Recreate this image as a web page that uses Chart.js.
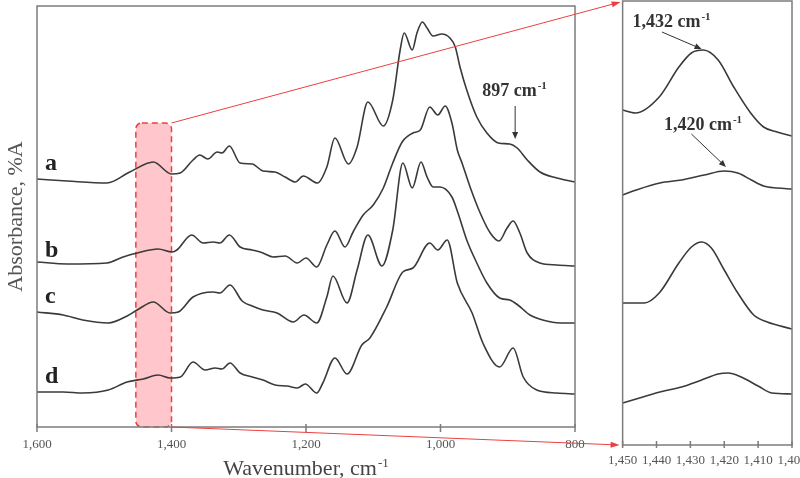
<!DOCTYPE html>
<html>
<head>
<meta charset="utf-8">
<script src="https://cdn.jsdelivr.net/npm/chart.js@4.4.1/dist/chart.umd.min.js"></script>
<style>
  html, body { margin: 0; padding: 0; background: #fff; overflow: hidden; }
  #wrap { position: relative; width: 800px; height: 478px; overflow: hidden; }
  #mainChart { position: absolute; left: 0; top: 0; }
  #zoomChart { position: absolute; left: 600px; top: 0; }
  #overlay { position: absolute; left: 0; top: 0; pointer-events: none; }
</style>
</head>
<body>
<div id="wrap">
  <canvas id="mainChart" width="600" height="478"></canvas>
  <canvas id="zoomChart" width="230" height="478"></canvas>
  <canvas id="overlay" width="800" height="478"></canvas>
</div>
<script>
// Full range spectra (wavenumber, cm-1 / absorbance with stacking offset)
const wnA = [1600,1555,1496,1462,1427,1400,1387,1368,1358,1346,1332,1325,1314,1298,1280,1264,1246,1231,1216,1204,1183,1169,1157,1137,1124,1108,1085,1071,1060,1054,1042,1035,1027,1020,1011,998,986,978,971,961,946,931,914,897,886,871,852,827,800];
const absA = [2.48,2.46,2.44,2.55,2.65,2.53,2.54,2.67,2.72,2.68,2.75,2.74,2.81,2.64,2.63,2.56,2.55,2.50,2.45,2.51,2.44,2.60,2.89,2.63,2.80,3.25,3.01,3.27,3.77,3.94,3.77,3.94,4.05,3.99,3.91,3.93,3.89,3.80,3.60,3.37,3.10,2.94,2.84,2.83,2.79,2.67,2.55,2.49,2.45];

const wnB = [1600,1555,1496,1472,1451,1420,1399,1392,1370,1353,1338,1328,1314,1298,1280,1264,1249,1231,1213,1200,1184,1169,1157,1142,1130,1115,1100,1085,1071,1057,1041,1030,1016,1004,993,983,975,968,956,941,926,913,901,892,882,871,852,827,800];
const absB = [1.65,1.63,1.64,1.70,1.74,1.78,1.75,1.77,1.92,1.84,1.85,1.84,1.92,1.80,1.77,1.74,1.70,1.71,1.64,1.69,1.60,1.82,1.96,1.80,1.95,2.12,2.22,2.39,2.64,2.85,2.94,2.97,3.20,3.12,3.21,3.04,2.77,2.64,2.40,2.14,1.94,1.86,1.99,2.06,1.94,1.74,1.64,1.62,1.61];

const wnC = [1600,1561,1532,1494,1466,1451,1427,1402,1390,1368,1338,1328,1313,1295,1280,1264,1243,1219,1203,1184,1169,1160,1139,1124,1108,1087,1071,1056,1042,1029,1020,1011,1001,983,974,961,946,931,912,897,885,867,848,822,800];
const absC = [1.15,1.12,1.07,1.04,1.11,1.17,1.25,1.14,1.15,1.30,1.35,1.34,1.42,1.26,1.21,1.17,1.14,1.05,1.12,1.04,1.30,1.51,1.24,1.57,1.92,1.61,1.97,2.64,2.39,2.65,2.50,2.40,2.40,2.30,2.14,1.87,1.64,1.44,1.29,1.27,1.22,1.12,1.07,1.04,1.04];

const wnD = [1600,1561,1532,1494,1466,1442,1420,1402,1387,1368,1350,1335,1325,1313,1298,1280,1264,1246,1228,1213,1201,1184,1175,1157,1139,1117,1105,1080,1056,1041,1016,1004,990,975,953,937,912,892,877,857,827,800];
const absD = [0.35,0.35,0.34,0.37,0.45,0.48,0.52,0.49,0.50,0.65,0.57,0.59,0.58,0.64,0.54,0.50,0.47,0.42,0.41,0.39,0.43,0.34,0.44,0.69,0.53,0.82,0.89,1.20,1.55,1.59,1.84,1.77,1.87,1.44,1.14,0.84,0.60,0.79,0.50,0.37,0.34,0.33];

// Zoomed 1,450 - 1,400 region
const zWnA = [1450,1446.2,1439.2,1433.4,1429.7,1426.2,1421.8,1417.2,1412.2,1408.4,1404.4,1400];
const zAbsA = [3.35,3.32,3.48,3.78,3.92,3.95,3.85,3.58,3.32,3.18,3.13,3.09];
const zWnB = [1450,1446,1439,1432.6,1425.9,1420,1416,1412,1408.4,1404.4,1400];
const zAbsB = [2.50,2.55,2.62,2.65,2.70,2.74,2.72,2.65,2.59,2.57,2.56];
const zWnC = [1450,1443.6,1439.2,1433.4,1429.7,1426.7,1423.8,1420,1416,1411.3,1407.3,1400];
const zAbsC = [1.42,1.42,1.52,1.82,1.98,2.03,1.97,1.75,1.52,1.30,1.23,1.16];
const zWnD = [1450,1444,1439,1432.6,1426.7,1421.8,1418.9,1415,1410,1406,1400];
const zAbsD = [0.42,0.48,0.53,0.58,0.65,0.71,0.72,0.68,0.59,0.52,0.51];

const mainTicks = [800, 1600, 200];   // min, max, step
const zoomTicks = [1400, 1450, 10];
const band = [1453, 1400];             // highlighted region on main plot

const serif = '"Liberation Serif", "Times New Roman", serif';
const frameColor = '#7c7c7c';
const inkColor = '#3a3a3a';
const redColor = '#ec4040';

function toPoints(wn, abs) {
    return wn.map((w, i) => ({ x: w, y: abs[i] }));
}

function trace(label, wn, abs) {
    return {
        label: label,
        data: toPoints(wn, abs),
        borderColor: inkColor,
        borderWidth: 1.6,
        pointRadius: 0,
        fill: false,
        cubicInterpolationMode: 'monotone'
    };
}

function drawFrame(chart, tickIn, tickOut) {
    const { ctx, chartArea: a, scales } = chart;
    ctx.save();
    ctx.strokeStyle = frameColor;
    ctx.lineWidth = 1.5;
    ctx.strokeRect(a.left, a.top, a.right - a.left, a.bottom - a.top);
    ctx.beginPath();
    scales.x.ticks.forEach(t => {
        const px = scales.x.getPixelForValue(t.value);
        ctx.moveTo(px, a.bottom - tickIn);
        ctx.lineTo(px, a.bottom + tickOut);
    });
    ctx.stroke();
    ctx.restore();
}

// text followed by a "-1" superscript
function supText(ctx, text, sup, y, size, weight, color) {
    ctx.save();
    ctx.font = weight + ' ' + size + 'px ' + serif;
    const w = ctx.measureText(text).width;
    ctx.font = weight + ' ' + Math.round(size * 0.6) + 'px ' + serif;
    const sw = ctx.measureText(sup).width;
    ctx.restore();
    return { w: w, sw: sw, draw: (lx) => {
        ctx.save();
        ctx.fillStyle = color;
        ctx.textBaseline = 'alphabetic';
        ctx.textAlign = 'left';
        ctx.font = weight + ' ' + size + 'px ' + serif;
        ctx.fillText(text, lx, y);
        ctx.font = weight + ' ' + Math.round(size * 0.6) + 'px ' + serif;
        ctx.fillText(sup, lx + w + 1, y - size * 0.38);
        ctx.restore();
    }};
}

function drawArrow(ctx, x1, y1, x2, y2, color, len, half) {
    const ang = Math.atan2(y2 - y1, x2 - x1);
    const c = Math.cos(ang), s = Math.sin(ang);
    ctx.save();
    ctx.strokeStyle = color;
    ctx.fillStyle = color;
    ctx.lineWidth = 1;
    ctx.beginPath();
    ctx.moveTo(x1, y1);
    ctx.lineTo(x2 - len * 0.6 * c, y2 - len * 0.6 * s);
    ctx.stroke();
    ctx.beginPath();
    ctx.moveTo(x2, y2);
    ctx.lineTo(x2 - len * c + half * s, y2 - len * s - half * c);
    ctx.lineTo(x2 - len * c - half * s, y2 - len * s + half * c);
    ctx.closePath();
    ctx.fill();
    ctx.restore();
}

const mainDecor = {
    id: 'mainDecor',
    beforeDatasetsDraw(chart) {
        const { ctx, chartArea: a, scales: { x, y } } = chart;
        const left = x.getPixelForValue(band[0]);
        const right = x.getPixelForValue(band[1]);
        const top = y.getPixelForValue(3.04);
        ctx.save();
        ctx.beginPath();
        ctx.roundRect(left, top, right - left, a.bottom - top, 6);
        ctx.fillStyle = 'rgba(255, 130, 140, 0.45)';
        ctx.fill();
        ctx.setLineDash([6, 4]);
        ctx.strokeStyle = redColor;
        ctx.lineWidth = 1.5;
        ctx.stroke();
        ctx.restore();
    },
    afterDraw(chart) {
        const { ctx, chartArea: a, scales: { x, y } } = chart;
        drawFrame(chart, 3, 5);

        // trace letters
        ctx.save();
        ctx.fillStyle = '#222';
        ctx.font = 'bold 24px ' + serif;
        ctx.textBaseline = 'alphabetic';
        [['a', 2.57], ['b', 1.70], ['c', 1.24], ['d', 0.44]].forEach(([t, v]) => {
            ctx.fillText(t, x.getPixelForValue(1588), y.getPixelForValue(v));
        });
        ctx.restore();

        // 897 cm-1 marker
        supText(ctx, '897 cm', '-1', y.getPixelForValue(3.31), 18, 'bold', '#333').draw(x.getPixelForValue(938));
        drawArrow(ctx, x.getPixelForValue(889), y.getPixelForValue(3.21), x.getPixelForValue(889), y.getPixelForValue(2.88), '#333', 7, 3);

        // x axis title with superscript
        const t = supText(ctx, 'Wavenumber, cm', '-1', 475, 22, 'normal', '#444');
        t.draw((a.left + a.right) / 2 - (t.w + t.sw + 1) / 2);
    }
};

const zoomDecor = {
    id: 'zoomDecor',
    afterDraw(chart) {
        const { ctx, scales: { x, y } } = chart;
        drawFrame(chart, 4, 3);
        supText(ctx, '1,432 cm', '-1', y.getPixelForValue(4.18), 18, 'bold', '#333').draw(x.getPixelForValue(1447.1));
        drawArrow(ctx, x.getPixelForValue(1438.4), y.getPixelForValue(4.13), x.getPixelForValue(1426.7), y.getPixelForValue(3.96), '#333', 7, 3);
        supText(ctx, '1,420 cm', '-1', y.getPixelForValue(3.15), 18, 'bold', '#333').draw(x.getPixelForValue(1437.8));
        drawArrow(ctx, x.getPixelForValue(1429.7), y.getPixelForValue(3.11), x.getPixelForValue(1419.5), y.getPixelForValue(2.78), '#333', 7, 3);
    }
};

function tickFont() {
    return { family: serif, size: 13 };
}

const mainChart = new Chart(document.getElementById('mainChart'), {
    type: 'line',
    data: {
        datasets: [
            trace('a', wnA, absA),
            trace('b', wnB, absB),
            trace('c', wnC, absC),
            trace('d', wnD, absD)
        ]
    },
    options: {
        responsive: false,
        animation: false,
        layout: { padding: { top: 6, right: 25, left: 0, bottom: 0 } },
        plugins: { legend: { display: false }, tooltip: { enabled: false } },
        scales: {
            x: {
                type: 'linear',
                reverse: true,
                min: mainTicks[0],
                max: mainTicks[1],
                ticks: {
                    stepSize: mainTicks[2],
                    padding: 10,
                    color: '#555',
                    font: tickFont(),
                    autoSkip: false,
                    maxRotation: 0,
                    callback: v => v.toLocaleString('en-US')
                },
                grid: { display: false, drawTicks: false },
                border: { display: false },
                afterFit: s => { s.height = 51; }
            },
            y: {
                min: 0,
                max: 4.21,
                ticks: { display: false },
                grid: { display: false, drawTicks: false },
                border: { display: false },
                title: {
                    display: true,
                    text: 'Absorbance, %A',
                    color: '#555',
                    font: { family: serif, size: 22 },
                    padding: { top: 3, bottom: 0 }
                },
                afterFit: s => { s.width = 37; }
            }
        }
    },
    plugins: [mainDecor]
});

const zoomChart = new Chart(document.getElementById('zoomChart'), {
    type: 'line',
    data: {
        datasets: [
            trace('a', zWnA, zAbsA),
            trace('b', zWnB, zAbsB),
            trace('c', zWnC, zAbsC),
            trace('d', zWnD, zAbsD)
        ]
    },
    options: {
        responsive: false,
        animation: false,
        layout: { padding: { top: 1, right: 38, left: 0, bottom: 0 } },
        plugins: { legend: { display: false }, tooltip: { enabled: false } },
        scales: {
            x: {
                type: 'linear',
                reverse: true,
                min: zoomTicks[0],
                max: zoomTicks[1],
                ticks: {
                    stepSize: zoomTicks[2],
                    padding: 8,
                    color: '#555',
                    font: tickFont(),
                    autoSkip: false,
                    maxRotation: 0,
                    callback: v => v.toLocaleString('en-US')
                },
                grid: { display: false, drawTicks: false },
                border: { display: false },
                afterFit: s => { s.height = 33; }
            },
            y: {
                min: 0,
                max: 4.44,
                ticks: { display: false },
                grid: { display: false, drawTicks: false },
                border: { display: false },
                afterFit: s => { s.width = 20; }
            }
        }
    },
    plugins: [zoomDecor]
});

// red connectors from the highlighted band to the zoom panel
function drawConnectors() {
    const ctx = document.getElementById('overlay').getContext('2d');
    const x = mainChart.scales.x, y = mainChart.scales.y;
    const z = zoomChart.chartArea;
    const zoomLeft = document.getElementById('zoomChart').offsetLeft + z.left;
    const bx = x.getPixelForValue(band[1]);
    drawArrow(ctx, bx, y.getPixelForValue(3.04), zoomLeft - 2, z.top + 1, redColor, 9, 3);
    drawArrow(ctx, bx, mainChart.chartArea.bottom, zoomLeft - 3, z.bottom, redColor, 9, 3);
}

drawConnectors();
</script>
</body>
</html>
